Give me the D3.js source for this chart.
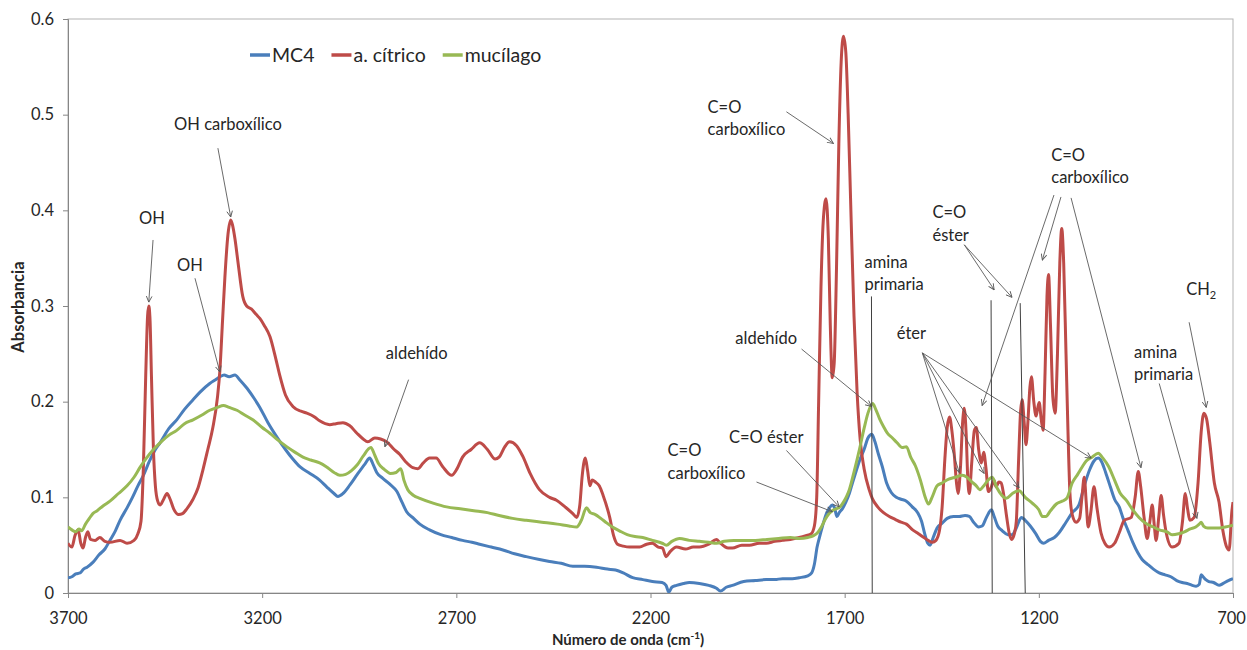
<!DOCTYPE html>
<html>
<head>
<meta charset="utf-8">
<script src="https://cdn.jsdelivr.net/npm/d3@7"></script>
<style>
  body { margin: 0; background: #fff; }
  svg text { font-family: Lato, "Open Sans", sans-serif; fill: #262626; }
</style>
</head>
<body>
<div id="chart"></div>
<script>
// spectra: [wavenumber cm-1, absorbance]
const mc4 = [
  [3700,0.016],[3690,0.017],[3680,0.020],[3669,0.021],[3660,0.025],[3651,0.027],[3636,0.032],[3620,0.040],[3605,0.046],[3592,0.055],
  [3578,0.065],[3566,0.076],[3548,0.089],[3534,0.100],[3520,0.112],[3507,0.122],[3490,0.138],[3475,0.150],[3463,0.157],[3440,0.172],
  [3420,0.181],[3400,0.192],[3378,0.202],[3360,0.210],[3335,0.219],[3320,0.223],[3309,0.226],[3298,0.228],[3285,0.226],[3270,0.228],
  [3258,0.223],[3239,0.214],[3220,0.203],[3206,0.194],[3185,0.178],[3162,0.163],[3140,0.150],[3121,0.140],[3103,0.132],[3077,0.125],
  [3052,0.118],[3034,0.111],[3015,0.104],[3005,0.101],[2992,0.104],[2974,0.113],[2955,0.124],[2935,0.135],[2923,0.141],[2915,0.135],
  [2905,0.126],[2890,0.120],[2872,0.114],[2853,0.106],[2840,0.095],[2828,0.085],[2810,0.078],[2794,0.072],[2769,0.066],[2740,0.061],
  [2712,0.058],[2684,0.055],[2660,0.053],[2640,0.051],[2610,0.048],[2580,0.045],[2550,0.041],[2520,0.038],[2486,0.035],[2460,0.033],
  [2430,0.031],[2400,0.028],[2370,0.028],[2339,0.027],[2311,0.025],[2290,0.024],[2270,0.021],[2246,0.016],[2220,0.014],[2195,0.012],
  [2170,0.011],[2160,0.008],[2153,0.001],[2145,0.006],[2133,0.008],[2115,0.010],[2100,0.011],[2074,0.010],[2050,0.008],[2030,0.005],
  [2020,0.002],[2005,0.006],[1989,0.008],[1960,0.012],[1930,0.013],[1902,0.014],[1880,0.014],[1860,0.015],[1835,0.015],[1817,0.016],
  [1795,0.018],[1785,0.021],[1778,0.030],[1771,0.048],[1765,0.058],[1757,0.070],[1747,0.083],[1739,0.089],[1732,0.092],[1726,0.089],
  [1720,0.080],[1714,0.084],[1706,0.088],[1697,0.095],[1688,0.104],[1680,0.115],[1670,0.128],[1662,0.138],[1650,0.150],[1640,0.162],
  [1630,0.166],[1622,0.158],[1613,0.145],[1603,0.132],[1592,0.115],[1580,0.105],[1567,0.100],[1555,0.098],[1541,0.096],[1526,0.090],
  [1512,0.084],[1502,0.075],[1494,0.062],[1486,0.052],[1480,0.050],[1472,0.058],[1462,0.068],[1449,0.073],[1436,0.078],[1420,0.080],
  [1405,0.080],[1390,0.081],[1379,0.080],[1368,0.074],[1355,0.069],[1346,0.070],[1335,0.079],[1322,0.087],[1315,0.080],[1306,0.070],
  [1294,0.065],[1280,0.061],[1269,0.061],[1258,0.068],[1245,0.079],[1235,0.076],[1222,0.070],[1208,0.062],[1196,0.054],[1188,0.052],
  [1175,0.055],[1160,0.058],[1148,0.063],[1130,0.074],[1114,0.084],[1097,0.092],[1083,0.112],[1070,0.128],[1058,0.138],[1047,0.141],
  [1038,0.137],[1028,0.126],[1015,0.110],[1005,0.098],[993,0.090],[983,0.078],[970,0.065],[958,0.053],[945,0.042],[934,0.035],
  [920,0.030],[905,0.025],[890,0.021],[875,0.019],[860,0.017],[845,0.013],[831,0.011],[818,0.010],[805,0.008],[795,0.007],
  [787,0.009],[782,0.019],[777,0.017],[770,0.014],[762,0.012],[750,0.011],[736,0.008],[725,0.010],[712,0.013],[700,0.015]
];

const citrico = [
  [3700,0.052],[3690,0.048],[3682,0.060],[3674,0.066],[3667,0.052],[3661,0.047],[3655,0.058],[3649,0.064],[3642,0.056],[3630,0.055],
  [3618,0.058],[3605,0.054],[3592,0.053],[3566,0.055],[3548,0.052],[3530,0.055],[3520,0.062],[3512,0.075],[3506,0.130],[3500,0.225],
  [3495,0.290],[3492,0.300],[3489,0.288],[3485,0.225],[3480,0.150],[3475,0.112],[3469,0.096],[3463,0.092],[3455,0.097],[3445,0.104],
  [3437,0.098],[3428,0.088],[3415,0.082],[3405,0.083],[3394,0.088],[3378,0.098],[3365,0.110],[3353,0.128],[3340,0.150],[3327,0.173],
  [3315,0.205],[3309,0.232],[3302,0.285],[3296,0.330],[3288,0.375],[3281,0.390],[3276,0.384],[3270,0.370],[3262,0.345],[3250,0.310],
  [3240,0.300],[3228,0.297],[3215,0.291],[3206,0.287],[3195,0.280],[3180,0.268],[3165,0.245],[3155,0.228],[3140,0.207],[3121,0.195],
  [3100,0.190],[3085,0.188],[3065,0.184],[3052,0.180],[3026,0.176],[3010,0.177],[2992,0.178],[2975,0.175],[2956,0.167],[2940,0.161],
  [2928,0.158],[2910,0.162],[2895,0.161],[2879,0.158],[2860,0.150],[2846,0.145],[2830,0.137],[2812,0.131],[2799,0.130],[2785,0.136],
  [2769,0.141],[2752,0.141],[2735,0.132],[2712,0.123],[2698,0.130],[2684,0.142],[2662,0.150],[2640,0.157],[2620,0.150],[2600,0.140],
  [2590,0.142],[2575,0.153],[2563,0.158],[2545,0.154],[2529,0.143],[2510,0.125],[2486,0.108],[2460,0.100],[2442,0.097],[2420,0.090],
  [2400,0.083],[2390,0.079],[2382,0.092],[2376,0.122],[2368,0.141],[2362,0.128],[2356,0.112],[2350,0.118],[2342,0.116],[2332,0.112],
  [2322,0.102],[2305,0.079],[2295,0.060],[2285,0.051],[2270,0.049],[2254,0.048],[2228,0.048],[2210,0.051],[2195,0.052],[2180,0.048],
  [2169,0.047],[2160,0.038],[2150,0.043],[2133,0.048],[2110,0.046],[2090,0.048],[2074,0.048],[2050,0.051],[2030,0.056],[2022,0.053],
  [2000,0.047],[1989,0.047],[1965,0.050],[1945,0.050],[1920,0.052],[1902,0.052],[1880,0.054],[1860,0.055],[1840,0.056],[1817,0.058],
  [1800,0.060],[1786,0.062],[1778,0.070],[1772,0.100],[1767,0.200],[1761,0.320],[1755,0.390],[1748,0.412],[1742,0.370],[1737,0.280],
  [1732,0.225],[1727,0.240],[1721,0.340],[1715,0.470],[1709,0.555],[1703,0.582],[1697,0.565],[1691,0.500],[1684,0.400],[1676,0.290],
  [1668,0.210],[1660,0.160],[1650,0.130],[1637,0.108],[1629,0.099],[1615,0.090],[1600,0.084],[1585,0.080],[1570,0.077],[1555,0.074],
  [1541,0.072],[1525,0.066],[1510,0.062],[1496,0.058],[1485,0.055],[1474,0.053],[1465,0.055],[1456,0.065],[1449,0.090],[1442,0.140],
  [1436,0.173],[1430,0.184],[1424,0.170],[1418,0.146],[1412,0.115],[1408,0.104],[1402,0.130],[1396,0.180],[1392,0.193],[1387,0.165],
  [1383,0.120],[1379,0.104],[1373,0.135],[1366,0.170],[1361,0.173],[1355,0.150],[1348,0.136],[1342,0.147],[1336,0.130],[1330,0.106],
  [1323,0.110],[1316,0.118],[1310,0.111],[1303,0.116],[1297,0.115],[1291,0.104],[1283,0.080],[1276,0.062],[1270,0.056],[1263,0.062],
  [1258,0.075],[1252,0.140],[1247,0.190],[1243,0.202],[1238,0.180],[1233,0.155],[1228,0.180],[1223,0.215],[1219,0.226],[1213,0.200],
  [1207,0.185],[1203,0.193],[1199,0.199],[1194,0.182],[1189,0.170],[1184,0.230],[1179,0.310],[1175,0.333],[1170,0.280],[1164,0.205],
  [1158,0.188],[1152,0.250],[1146,0.345],[1141,0.381],[1136,0.345],[1130,0.250],[1125,0.170],[1120,0.105],[1114,0.082],[1104,0.074],
  [1095,0.078],[1089,0.100],[1083,0.121],[1078,0.095],[1073,0.069],[1066,0.085],[1058,0.111],[1050,0.088],[1040,0.063],[1030,0.052],
  [1019,0.048],[1005,0.052],[993,0.063],[980,0.076],[962,0.079],[952,0.100],[944,0.127],[938,0.112],[929,0.079],[921,0.057],
  [914,0.075],[908,0.092],[903,0.072],[898,0.055],[891,0.080],[885,0.102],[879,0.082],[872,0.063],[857,0.048],[839,0.052],
  [830,0.075],[823,0.104],[817,0.088],[811,0.076],[800,0.079],[790,0.115],[782,0.168],[775,0.188],[768,0.182],[760,0.158],
  [748,0.115],[736,0.095],[726,0.065],[718,0.050],[710,0.045],[703,0.085],[700,0.095]
];

const mucilago = [
  [3700,0.069],[3690,0.066],[3680,0.064],[3672,0.067],[3665,0.065],[3655,0.072],[3645,0.078],[3636,0.083],[3625,0.086],[3610,0.091],
  [3592,0.096],[3570,0.104],[3548,0.112],[3530,0.121],[3515,0.131],[3500,0.140],[3480,0.150],[3463,0.157],[3440,0.165],[3420,0.170],
  [3400,0.177],[3378,0.181],[3355,0.186],[3335,0.191],[3315,0.194],[3300,0.196],[3285,0.194],[3265,0.191],[3245,0.186],[3224,0.181],
  [3200,0.173],[3180,0.167],[3160,0.160],[3137,0.153],[3115,0.147],[3095,0.142],[3075,0.139],[3052,0.136],[3035,0.132],[3015,0.126],
  [3000,0.123],[2985,0.124],[2970,0.128],[2955,0.134],[2940,0.143],[2920,0.152],[2910,0.144],[2900,0.135],[2885,0.129],[2870,0.125],
  [2855,0.126],[2843,0.130],[2835,0.118],[2825,0.108],[2810,0.102],[2794,0.099],[2760,0.094],[2725,0.090],[2690,0.088],[2655,0.086],
  [2620,0.084],[2590,0.081],[2555,0.078],[2520,0.076],[2480,0.074],[2440,0.072],[2410,0.070],[2390,0.069],[2378,0.076],[2365,0.089],
  [2355,0.084],[2342,0.082],[2328,0.078],[2312,0.073],[2298,0.069],[2280,0.065],[2260,0.061],[2240,0.059],[2220,0.058],[2195,0.055],
  [2170,0.052],[2159,0.050],[2145,0.054],[2125,0.057],[2100,0.055],[2074,0.054],[2050,0.053],[2030,0.052],[2010,0.054],[1985,0.055],
  [1960,0.055],[1930,0.055],[1900,0.056],[1870,0.057],[1840,0.058],[1817,0.057],[1795,0.058],[1780,0.060],[1770,0.063],[1760,0.069],
  [1750,0.077],[1740,0.083],[1732,0.086],[1722,0.088],[1712,0.090],[1703,0.095],[1695,0.101],[1688,0.108],[1675,0.128],[1662,0.150],
  [1650,0.172],[1640,0.188],[1628,0.198],[1620,0.192],[1610,0.182],[1600,0.174],[1590,0.167],[1577,0.162],[1565,0.157],[1552,0.152],
  [1541,0.153],[1530,0.142],[1518,0.133],[1505,0.118],[1494,0.102],[1484,0.093],[1475,0.100],[1462,0.112],[1449,0.115],[1432,0.119],
  [1415,0.121],[1397,0.123],[1385,0.121],[1372,0.116],[1361,0.112],[1352,0.108],[1340,0.113],[1328,0.119],[1320,0.121],[1308,0.110],
  [1295,0.102],[1284,0.099],[1268,0.104],[1251,0.107],[1235,0.100],[1217,0.094],[1200,0.087],[1191,0.080],[1182,0.080],[1170,0.086],
  [1155,0.093],[1140,0.096],[1128,0.099],[1114,0.115],[1100,0.124],[1088,0.132],[1078,0.138],[1063,0.142],[1047,0.146],[1035,0.141],
  [1020,0.132],[1005,0.118],[990,0.104],[975,0.097],[960,0.088],[942,0.079],[925,0.073],[905,0.069],[890,0.066],[870,0.064],
  [857,0.061],[840,0.062],[825,0.064],[810,0.067],[796,0.069],[787,0.072],[782,0.074],[776,0.070],[765,0.068],[750,0.068],
  [735,0.068],[720,0.069],[700,0.071]
];

const seriesNames = ["MC4", "a. cítrico", "mucílago"];
const seriesColors = ["#4a7ebb", "#be4b48", "#98b954"];
const xTicks = [3700, 3200, 2700, 2200, 1700, 1200, 700];
const yTicks = [0, 0.1, 0.2, 0.3, 0.4, 0.5, 0.6];

// band labels, placed in data units; arrows are [w1, a1, w2, a2]
const notes = [
  { text: ["OH"], at: [3484, 0.392], anchor: "middle", arrows: [[3481, 0.369, 3492, 0.304]] },
  { text: ["OH carboxílico"], at: [3288, 0.490], anchor: "middle", arrows: [[3314, 0.465, 3281, 0.393]] },
  { text: ["OH"], at: [3386, 0.343], anchor: "middle", arrows: [[3373, 0.329, 3309, 0.231]] },
  { text: ["aldehído"], at: [2802, 0.251], anchor: "middle", arrows: [[2823, 0.223, 2884, 0.153]] },
  { text: ["C=O", "carboxílico"], at: [2156, 0.149], anchor: "start", arrows: [[1927, 0.116, 1732, 0.085]] },
  { text: ["C=O éster"], at: [1902, 0.163], anchor: "middle", arrows: [[1850, 0.149, 1714, 0.090]] },
  { text: ["aldehído"], at: [1902, 0.266], anchor: "middle", arrows: [[1811, 0.255, 1631, 0.195]] },
  { text: ["C=O", "carboxílico"], at: [2053, 0.508], anchor: "start", arrows: [[1850, 0.503, 1729, 0.470]] },
  { text: ["amina", "primaria"], at: [1649, 0.346], anchor: "start", rules: [[1631, 0.310, 1629, 0]] },
  { text: ["éter"], at: [1528, 0.272], anchor: "middle",
    arrows: [[1500, 0.251, 1405, 0.126], [1500, 0.251, 1341, 0.125], [1500, 0.251, 1251, 0.110], [1500, 0.251, 1065, 0.141]] },
  { text: ["C=O", "éster"], at: [1474, 0.398], anchor: "start",
    arrows: [[1392, 0.364, 1315, 0.317], [1392, 0.364, 1269, 0.309]],
    rules: [[1323, 0.306, 1320, 0], [1248, 0.303, 1235, 0]] },
  { text: ["C=O", "carboxílico"], at: [1168, 0.458], anchor: "start",
    arrows: [[1161, 0.416, 1346, 0.196], [1143, 0.414, 1191, 0.348], [1117, 0.413, 937, 0.131]] },
  { text: ["CH"], sub: "2", at: [782, 0.318], anchor: "middle", arrows: [[813, 0.283, 769, 0.194]] },
  { text: ["amina", "primaria"], at: [955, 0.252], anchor: "start", arrows: [[890, 0.219, 793, 0.078]] }
];

const width = 1247, height = 650;
const plotLeft = 68, plotRight = 1233, plotTop = 19, plotBottom = 593;

const svg = d3.select("#chart").append("svg")
  .attr("width", width)
  .attr("height", height);

const x = d3.scaleLinear().domain([3700, 700]).range([plotLeft, plotRight]);
const y = d3.scaleLinear().domain([0, 0.6]).range([plotBottom, plotTop]);

const defs = svg.append("defs");
defs.append("clipPath").attr("id", "plot")
  .append("rect")
  .attr("x", plotLeft).attr("y", plotTop)
  .attr("width", plotRight - plotLeft).attr("height", plotBottom - plotTop);

const marker = defs.append("marker")
  .attr("id", "head")
  .attr("viewBox", "0 0 10 10")
  .attr("refX", 9.5).attr("refY", 5)
  .attr("markerWidth", 7).attr("markerHeight", 7)
  .attr("markerUnits", "userSpaceOnUse")
  .attr("orient", "auto");
marker.append("path")
  .attr("d", "M1,1L9.5,5L1,9")
  .attr("fill", "none")
  .attr("stroke", "#595959")
  .attr("stroke-width", 1.3);

// plot area frame
svg.append("rect")
  .attr("x", plotLeft).attr("y", plotTop)
  .attr("width", plotRight - plotLeft).attr("height", plotBottom - plotTop)
  .attr("fill", "none")
  .attr("stroke", "#b3b3b3");

const yAxis = svg.append("g")
  .attr("transform", "translate(" + plotLeft + ",0)")
  .call(d3.axisLeft(y).tickValues(yTicks).tickSize(5).tickPadding(9)
    .tickFormat(d => d === 0 ? "0" : d.toFixed(1)));

const xAxis = svg.append("g")
  .attr("transform", "translate(0," + plotBottom + ")")
  .call(d3.axisBottom(x).tickValues(xTicks).tickSize(5).tickPadding(14)
    .tickFormat(d3.format("d")));

[xAxis, yAxis].forEach(g => {
  g.select(".domain").attr("stroke", "#868686");
  g.selectAll(".tick line").attr("stroke", "#868686");
  g.selectAll(".tick text")
    .attr("font-family", "Lato, sans-serif")
    .attr("font-size", 16.5)
    .attr("fill", "#262626");
});
// keep the last label inside the page
xAxis.selectAll(".tick text").filter(d => d === 700).attr("dx", -2);

const line = d3.line()
  .x(d => x(d[0]))
  .y(d => y(d[1]))
  .curve(d3.curveMonotoneX);

const spectra = [mc4, citrico, mucilago];
svg.append("g").attr("clip-path", "url(#plot)")
  .selectAll("path")
  .data(spectra)
  .enter()
  .append("path")
  .attr("d", line)
  .attr("fill", "none")
  .attr("stroke", (d, i) => seriesColors[i])
  .attr("stroke-width", 3)
  .attr("stroke-linejoin", "round");

// annotations
const noteLayer = svg.append("g");
notes.forEach(n => {
  (n.arrows || []).forEach(a => {
    noteLayer.append("line")
      .attr("x1", x(a[0])).attr("y1", y(a[1]))
      .attr("x2", x(a[2])).attr("y2", y(a[3]))
      .attr("stroke", "#595959")
      .attr("stroke-width", 0.9)
      .attr("marker-end", "url(#head)");
  });
  (n.rules || []).forEach(a => {
    noteLayer.append("line")
      .attr("x1", x(a[0])).attr("y1", y(a[1]))
      .attr("x2", x(a[2])).attr("y2", y(a[3]))
      .attr("stroke", "#404040")
      .attr("stroke-width", 1);
  });
  const t = noteLayer.append("text")
    .attr("x", x(n.at[0]))
    .attr("y", y(n.at[1]))
    .attr("text-anchor", n.anchor)
    .attr("font-size", 16.5);
  n.text.forEach((s, i) => {
    t.append("tspan")
      .attr("x", x(n.at[0]))
      .attr("dy", i === 0 ? "0.35em" : 22.5)
      .text(s);
  });
  if (n.sub) {
    t.append("tspan")
      .attr("dy", 4)
      .attr("font-size", 11)
      .text(n.sub);
  }
});

// legend
const legend = svg.append("g").attr("transform", "translate(250,55)");
let lx = 0;
seriesNames.forEach((name, i) => {
  legend.append("line")
    .attr("x1", lx).attr("x2", lx + 20)
    .attr("y1", 0).attr("y2", 0)
    .attr("stroke", seriesColors[i])
    .attr("stroke-width", 3.5);
  const txt = legend.append("text")
    .attr("x", lx + 22)
    .attr("y", 0)
    .attr("dy", "0.35em")
    .attr("font-size", 19.5)
    .text(name);
  lx += 22 + txt.node().getComputedTextLength() + 17;
});

// axis titles
svg.append("text")
  .attr("transform", "translate(18," + ((plotTop + plotBottom) / 2 + 1) + ") rotate(-90)")
  .attr("text-anchor", "middle")
  .attr("dy", "0.35em")
  .attr("font-size", 16.5)
  .attr("font-weight", "bold")
  .text("Absorbancia");

const xt = svg.append("text")
  .attr("x", 628)
  .attr("y", 640)
  .attr("text-anchor", "middle")
  .attr("dy", "0.35em")
  .attr("font-size", 15)
  .attr("font-weight", "bold");
xt.append("tspan").text("Número de onda (cm");
xt.append("tspan").attr("dy", -6).attr("font-size", 10).text("-1");
xt.append("tspan").attr("dy", 6).text(")");
</script>
</body>
</html>
